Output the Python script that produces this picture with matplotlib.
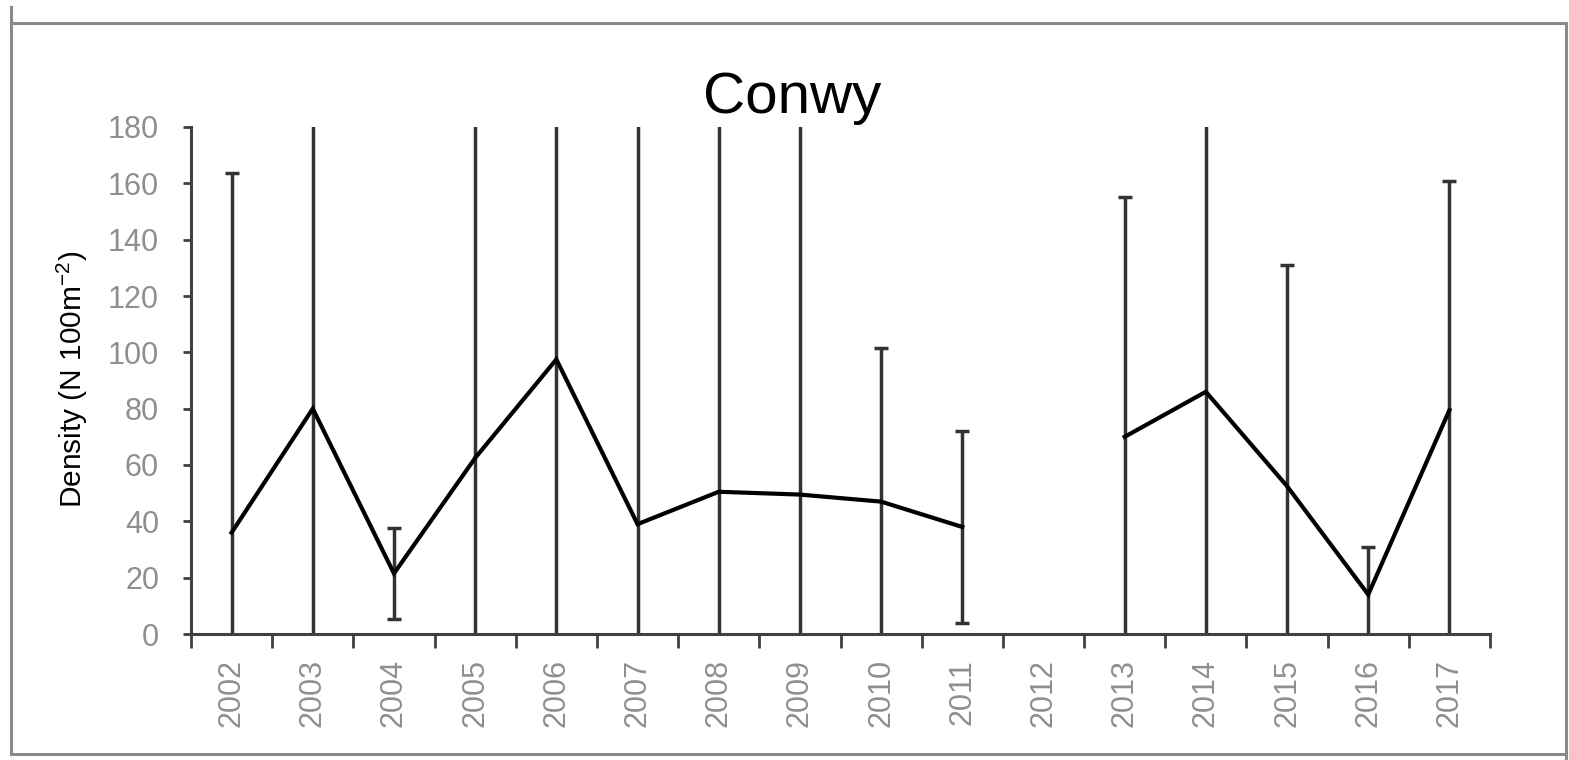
import numpy as np
import matplotlib
matplotlib.use("Agg")
import matplotlib.pyplot as plt
from matplotlib.lines import Line2D

plt.rcParams['font.family'] = ['Liberation Sans', 'DejaVu Sans']
plt.rcParams['mathtext.fontset'] = 'custom'
plt.rcParams['mathtext.rm'] = 'Liberation Sans'
plt.rcParams['mathtext.it'] = 'Liberation Sans'

# ---- data ----
years = ['2002', '2003', '2004', '2005', '2006', '2007', '2008', '2009',
         '2010', '2011', '2012', '2013', '2014', '2015', '2016', '2017']
density = [36, 80, 21.5, 62.5, 97.5, 39, 50.5, 49.5,
           47, 38, np.nan, 70, 86, 52.5, 14, 79.5]
error = [127.5, 110, 16, 130, 110, 150, 140, 140,
         54.5, 34, np.nan, 85, 100, 78.5, 17, 81.5]
yticks = [0, 20, 40, 60, 80, 100, 120, 140, 160, 180]
title = 'Conwy'
ylabel = 'Density (N 100m$^{-2}$)'

W, H = 1569, 760
fig = plt.figure(figsize=(W / 100, H / 100), dpi=100)
ax = fig.add_axes([191 / W, 1 - 634 / H, (1490 - 191) / W, (634 - 127) / H])

x = np.arange(len(years))
ax.errorbar(x, density, yerr=error, fmt='none', ecolor='#333333',
            elinewidth=2.5, capsize=5, capthick=2.5, zorder=2)
ax.plot(x, density, color='black', lw=3, zorder=3, solid_joinstyle='miter')

ax.set_xlim(-0.5, len(years) - 0.5)
ax.set_ylim(0, 180)
ax.set_yticks(yticks)
ax.set_yticklabels([str(v) for v in yticks])
ax.set_xticks(x)
ax.set_xticklabels(years, rotation=90)
ax.set_xticks(np.arange(-0.5, len(years)), minor=True)

for s in ['top', 'right']:
    ax.spines[s].set_visible(False)
for s in ['left', 'bottom']:
    ax.spines[s].set_color('#404040')
    ax.spines[s].set_linewidth(2.2)

ax.tick_params(axis='y', which='major', direction='out', length=6, width=2,
               color='#404040', pad=17, labelsize=22, labelcolor='#8f8f8f')
ax.tick_params(axis='x', which='major', length=0, pad=18, labelsize=22,
               labelcolor='#8f8f8f')
ax.tick_params(axis='x', which='minor', direction='out', length=10, width=2,
               color='#404040')

fig.text(792 / W, 1 - 113 / H, title, ha='center', va='baseline',
         fontsize=42, color='black')
fig.text(72 / W, 1 - 379 / H, ylabel, ha='center', va='center',
         rotation=90, fontsize=21.5, color='black')

# figure border
bc = '#8a8a8a'
fig.add_artist(Line2D([11 / W, 1566 / W], [1 - 23 / H, 1 - 23 / H], color=bc, lw=2.2))
fig.add_artist(Line2D([11 / W, 11 / W], [1 - 7 / H, 1 - 754 / H], color=bc, lw=2.2))
fig.add_artist(Line2D([11 / W, 1566 / W], [1 - 754 / H, 1 - 754 / H], color=bc, lw=2.2))
fig.add_artist(Line2D([1566 / W, 1566 / W], [1 - 23 / H, 1 - 758 / H], color=bc, lw=2.2))

fig.savefig('out.png', dpi=100)
